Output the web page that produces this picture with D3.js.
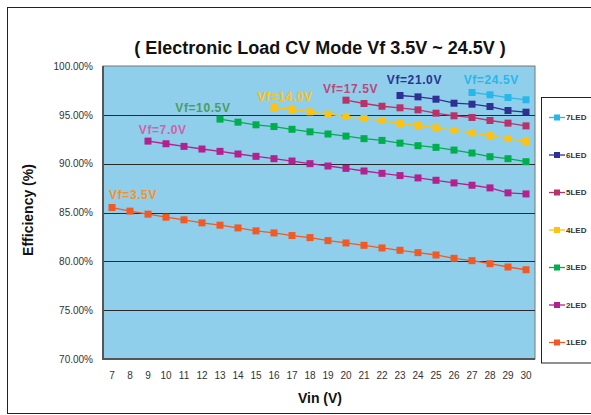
<!DOCTYPE html>
<html><head><meta charset="utf-8">
<script src="https://cdn.jsdelivr.net/npm/d3@7"></script>
<style>
html,body{margin:0;padding:0;background:#fff;}
svg{display:block;font-family:"Liberation Sans",Arial,sans-serif;}
</style></head>
<body>
<svg id="chart" width="591" height="415"></svg>
<script>
// ---------- data ----------
const vin = [7,8,9,10,11,12,13,14,15,16,17,18,19,20,21,22,23,24,25,26,27,28,29,30];
const yTicks = [70,75,80,85,90,95,100];
const seriesNames = ["1LED","2LED","3LED","4LED","5LED","6LED","7LED"];
const vfLabels = ["Vf=3.5V","Vf=7.0V","Vf=10.5V","Vf=14.0V","Vf=17.5V","Vf=21.0V","Vf=24.5V"];
const startVin = [7,9,13,16,20,23,27];
const led1 = [85.51,85.14,84.83,84.52,84.25,83.94,83.70,83.42,83.12,82.91,82.64,82.43,82.12,81.88,81.64,81.37,81.13,80.89,80.65,80.31,80.07,79.76,79.42,79.14];
const led2 = [92.31,92.04,91.77,91.50,91.26,90.99,90.75,90.51,90.27,90.00,89.76,89.52,89.25,89.01,88.78,88.54,88.30,88.03,87.79,87.52,87.01,86.90];
const led3 = [94.56,94.25,93.98,93.80,93.52,93.26,93.04,92.82,92.56,92.38,92.10,91.84,91.67,91.39,91.09,90.71,90.51,90.20];
const led4 = [95.75,95.55,95.31,95.07,94.83,94.62,94.42,94.11,93.91,93.67,93.40,93.16,92.87,92.57,92.27];
const led5 = [96.50,96.16,95.88,95.72,95.51,95.17,94.90,94.73,94.42,94.15,93.87];
const led6 = [96.98,96.84,96.60,96.19,96.09,95.85,95.44,95.27];
const led7 = [97.29,97.05,96.77,96.54];
// annotation anchors in data units (Vin, efficiency)
const labelVin = [8.17,9.82,12.05,16.6,20.25,23.8,28.07];
const labelEff = [86.79,93.44,95.72,96.85,97.64,98.56,98.56];

const seriesValues = [led1,led2,led3,led4,led5,led6,led7];
const lineColors = ["#f15a24","#b3218f","#00ae4d","#ffc20e","#b8336a","#2e3192","#27b7ea"];
const labelColors = ["#f7902a","#d460a8","#4c9c63","#ffc20e","#b84a78","#2e3192","#27b7ea"];

// ---------- layout ----------
const svg = d3.select("#chart");
const L = 103, R = 535, T = 66, B = 359;

svg.append("rect").attr("x",7.5).attr("y",7.5).attr("width",620).attr("height",406)
  .attr("fill","#fff").attr("stroke","#222").attr("stroke-width",1);

const x = d3.scaleBand().domain(vin).range([L,R]);
const y = d3.scaleLinear().domain([70,100]).range([B,T]);
const cx = v => x(v) + x.bandwidth()/2;

// plot background
svg.append("rect").attr("x",L).attr("y",T).attr("width",R-L).attr("height",B-T)
  .attr("fill","#8fcfeb").attr("stroke","#777").attr("stroke-width",1);

// gridlines
svg.append("g").selectAll("line").data(yTicks.filter(t=>t>70 && t<100)).join("line")
  .attr("x1",L).attr("x2",R).attr("y1",d=>Math.round(y(d))+0.5).attr("y2",d=>Math.round(y(d))+0.5)
  .attr("stroke","#2a2a2a").attr("stroke-width",1);

// axes lines
svg.append("line").attr("x1",L).attr("x2",L).attr("y1",T).attr("y2",B+1).attr("stroke","#555").attr("stroke-width",2);
svg.append("line").attr("x1",L-1).attr("x2",R).attr("y1",B).attr("y2",B).attr("stroke","#555").attr("stroke-width",2);

// y axis
const yAxis = d3.axisLeft(y).tickValues(yTicks).tickSize(0).tickPadding(10).tickFormat(d=>d.toFixed(2)+"%");
const gy = svg.append("g").attr("transform",`translate(${L},0)`).call(yAxis);
gy.select(".domain").remove();
gy.selectAll("text").attr("font-size",10).attr("fill","#333").attr("font-family","Liberation Sans, Arial, sans-serif");

// x axis
const xAxis = d3.axisBottom(x).tickSize(0).tickPadding(13);
const gx = svg.append("g").attr("transform",`translate(0,${B})`).call(xAxis);
gx.select(".domain").remove();
gx.selectAll("text").attr("font-size",10).attr("fill","#333").attr("font-family","Liberation Sans, Arial, sans-serif");

// titles
svg.append("text").attr("x",320).attr("y",54).attr("text-anchor","middle")
  .attr("font-size",18).attr("font-weight","bold").attr("fill","#111")
  .text("( Electronic Load CV Mode Vf 3.5V ~ 24.5V )");
svg.append("text").attr("x",320).attr("y",403).attr("text-anchor","middle")
  .attr("font-size",14).attr("font-weight","bold").attr("fill","#111").text("Vin (V)");
svg.append("text").attr("transform","translate(33,210) rotate(-90)").attr("text-anchor","middle")
  .attr("font-size",14).attr("font-weight","bold").attr("fill","#111").text("Efficiency (%)");

// series
const line = d3.line().x(d=>cx(d.v)).y(d=>y(d.e));
seriesValues.forEach((vals,i)=>{
  const s0 = vin.indexOf(startVin[i]);
  const pts = vals.map((e,k)=>({v:vin[s0+k], e}));
  const g = svg.append("g");
  g.append("path").datum(pts).attr("d",line).attr("fill","none")
    .attr("stroke",lineColors[i]).attr("stroke-width",1.3);
  g.selectAll("rect").data(pts).join("rect")
    .attr("x",d=>cx(d.v)-3.5).attr("y",d=>y(d.e)-3.5).attr("width",7).attr("height",7)
    .attr("fill",lineColors[i]);
  // Vf label
  const lx = x(7) + x.bandwidth()/2 + (labelVin[i]-7)*x.step();
  svg.append("text").attr("x",lx).attr("y",y(labelEff[i])).attr("dy","0.35em")
    .attr("text-anchor","middle").attr("font-size",12).attr("font-weight","bold")
    .attr("letter-spacing","0.6px").attr("fill",labelColors[i]).text(vfLabels[i]);
});

// legend
svg.append("rect").attr("x",541.5).attr("y",97.5).attr("width",80).attr("height",265.5)
  .attr("fill","#fff").attr("stroke","#222").attr("stroke-width",1);
const legendOrder = [6,5,4,3,2,1,0];
legendOrder.forEach((si,k)=>{
  const ly = 117.5 + k*37.5;
  svg.append("line").attr("x1",549).attr("x2",565).attr("y1",ly).attr("y2",ly)
    .attr("stroke",lineColors[si]).attr("stroke-width",1.3);
  svg.append("rect").attr("x",554).attr("y",ly-3).attr("width",6).attr("height",6).attr("fill",lineColors[si]);
  svg.append("text").attr("x",566).attr("y",ly).attr("dy","0.35em")
    .attr("font-size",8).attr("font-weight","bold").attr("fill","#333").text(seriesNames[si]);
});
</script>
</body></html>
